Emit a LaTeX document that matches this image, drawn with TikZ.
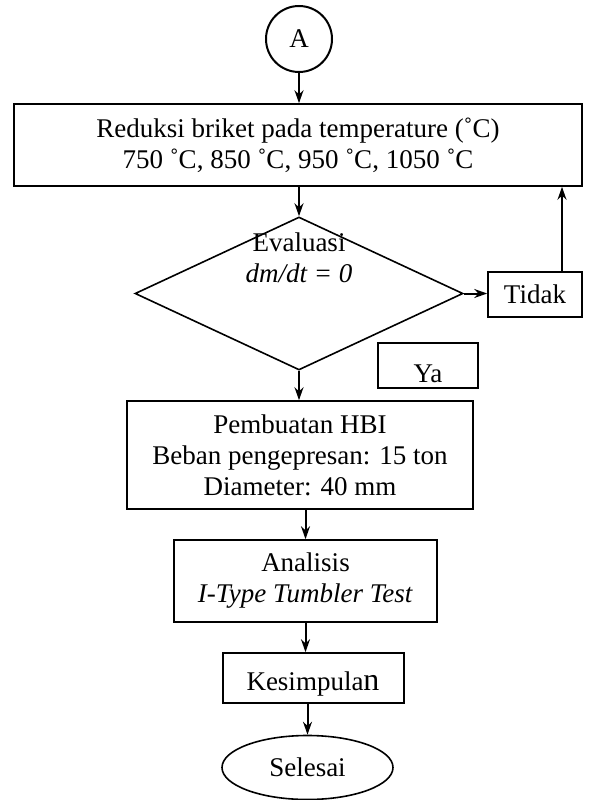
\documentclass[tikz,border=0pt]{standalone}
\usepackage{fontspec}
\setmainfont{Liberation Serif}
\usetikzlibrary{shapes.geometric,arrows.meta}

\begin{document}
\begin{tikzpicture}
  [x=1pt,y=-1pt,
  every node/.style={font=\fontsize{27}{31}\selectfont},
  proc/.style={draw,line width=1.6pt,inner sep=0pt,align=center},
  decision/.style={draw,diamond,line width=1.6pt,inner sep=0pt,
    minimum width=328pt,minimum height=153pt},
  conn/.style={draw,circle,line width=2pt,minimum size=66pt,inner sep=0pt},
  term/.style={draw,ellipse,line width=1.6pt,minimum width=171pt,
    minimum height=64pt,inner sep=0pt},
  flow/.style={line width=2pt,-{Stealth[length=13pt,width=9pt]}}]
  \useasboundingbox (0,0) rectangle (592,800);
  % blocks
  \node[conn] (A) at (299,39) {A};
  \node[proc,minimum width=568pt,minimum height=82pt] (reduksi) at (298,145)
    {Reduksi briket pada temperature (˚C)\\750 ˚C, 850 ˚C, 950 ˚C, 1050 ˚C};
  \node[decision] (eval) at (299,293.5) {};
  \node[align=center,inner sep=0pt] (evaltxt) at (299,258)
    {Evaluasi\\\textit{dm/dt = 0}};
  \node[proc,minimum width=94pt,minimum height=45pt] (tidak) at (535,294.5) {Tidak};
  \node[proc,minimum width=100pt,minimum height=45pt] (ya) at (428,365.5) {};
  \node[anchor=base,inner sep=0pt] (yatxt) at (428,382) {Ya};
  \node[proc,minimum width=346pt,minimum height=108pt] (pembuatan) at (300,455)
    {Pembuatan HBI\\Beban pengepresan: 15 ton\\Diameter: 40 mm};
  \node[proc,minimum width=263pt,minimum height=82pt] (analisis) at (305.5,581)
    {Analisis\\\textit{I-Type Tumbler Test}};
  \node[proc,minimum width=181pt,minimum height=50pt] (kesimpulan) at (313.5,678) {};
  \node[anchor=base,inner sep=0pt] (kestxt) at (313,690)
    {Kesimpula{\fontsize{32}{32}\selectfont n}};
  \node[term] (selesai) at (307.5,767.5) {Selesai};
  % arrows
  \draw[flow] (A.south) -- (A.south |- reduksi.north);
  \draw[flow] (eval.north |- reduksi.south) -- (eval.north);
  \draw[flow] (eval.east) -- (eval.east -| tidak.west);
  \draw[flow] ([xshift=27pt]tidak.north) -- ([xshift=27pt]tidak.north |- reduksi.south);
  \draw[flow] (eval.south) -- (eval.south |- pembuatan.north);
  \draw[flow] (analisis.north |- pembuatan.south) -- (analisis.north);
  \draw[flow] (analisis.south) -- (analisis.south |- kesimpulan.north);
  \draw[flow] (selesai.north |- kesimpulan.south) -- (selesai.north);
\end{tikzpicture}
\end{document}
